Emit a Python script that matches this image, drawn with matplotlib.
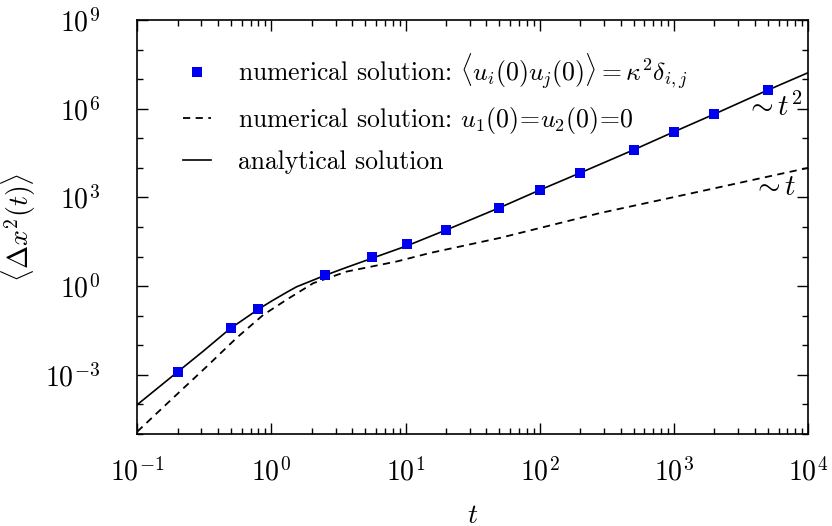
import numpy as np
import matplotlib
matplotlib.use("Agg")
import matplotlib.pyplot as plt
from matplotlib.ticker import LogLocator, NullFormatter

plt.rcParams['font.family'] = 'serif'
plt.rcParams['font.serif'] = ['cmr10']
plt.rcParams['mathtext.fontset'] = 'cm'
plt.rcParams['axes.formatter.use_mathtext'] = True
plt.rcParams['axes.unicode_minus'] = False
plt.rcParams['font.size'] = 20

# numerical solution, random initial velocities (squares)
t_num = [0.2, 0.5, 0.8, 2.5, 5.6, 10.3, 20, 50, 100, 200, 500, 1000, 2000, 5000]
x2_num = [1.26e-3, 0.039, 0.17, 2.4, 9.5, 26, 80, 447, 1780, 6760,
          4.07e4, 1.66e5, 6.6e5, 4.27e6]

# numerical solution, u1(0)=u2(0)=0 (dashed)
t_zero = [0.1, 0.185, 0.329, 0.55, 0.87, 1.3, 2.05, 3.63, 8.57, 15.2,
          50.5, 280, 1480, 1e4]
x2_zero = [1.2e-5, 1.66e-4, 1.9e-3, 0.0178, 0.107, 0.35, 1.26, 3.1, 6.8, 13.2,
           42.7, 295, 1510, 1.0e4]

# analytical solution (solid)
t_an = [0.1, 0.2, 0.31, 0.49, 0.8, 1.0, 1.3, 1.54, 2.05, 2.5, 3.63, 5.6, 10.3,
        20, 50, 100, 200, 500, 1000, 2000, 5000, 1e4]
x2_an = [9.8e-5, 1.26e-3, 6.3e-3, 0.036, 0.166, 0.31, 0.62, 0.95, 1.6, 2.3, 4.3,
         8.7, 23.4, 79, 447, 1780, 6760, 4.07e4, 1.66e5, 6.6e5, 4.27e6, 1.66e7]

fig = plt.figure(figsize=(8.32, 5.26), dpi=100)
ax = fig.add_axes([0.165, 0.175, 0.8065, 0.787])

ax.plot(t_num, x2_num, 's', color='#0000f0', markersize=7.5, markeredgewidth=0,
        label=r'numerical solution: $\langle u_i(0)u_j(0)\rangle = \kappa^2\delta_{i,j}$',
        zorder=3)
ax.plot(t_zero, x2_zero, '--', color='black', lw=1.3, dashes=(4, 3),
        label=r'numerical solution: $u_1(0)\!=\!u_2(0)\!=\!0$')
ax.plot(t_an, x2_an, '-', color='black', lw=1.2, label='analytical solution')

ax.set_xscale('log')
ax.set_yscale('log')
ax.set_xlim(0.1, 1e4)
ax.set_ylim(1e-5, 1e9)

ax.yaxis.set_major_locator(LogLocator(base=1000.0, numticks=10))
ax.yaxis.set_minor_locator(LogLocator(base=10.0, subs=(1.0,), numticks=20))
ax.yaxis.set_minor_formatter(NullFormatter())
ax.xaxis.set_major_locator(LogLocator(base=10.0, numticks=10))
ax.xaxis.set_minor_locator(LogLocator(base=10.0, subs=np.arange(2, 10), numticks=20))
ax.xaxis.set_minor_formatter(NullFormatter())

ax.tick_params(which='both', direction='in', top=True, right=True, width=1.0)
ax.tick_params(which='major', length=8)
ax.tick_params(which='minor', length=4)
ax.tick_params(axis='x', which='major', pad=17)
ax.tick_params(axis='y', which='major', pad=27)
for s in ax.spines.values():
    s.set_linewidth(1.2)

ax.set_xlabel(r'$t$')
ax.set_ylabel(r'$\langle \Delta x^2(t) \rangle$')
ax.xaxis.set_label_coords(0.5, -0.165)
ax.yaxis.set_label_coords(-0.148, 0.5)

ax.text(5.5e3, 1.1e6, r'$\sim t^2$', ha='center', va='center', fontsize=21)
ax.text(5.6e3, 2.1e3, r'$\sim t$', ha='center', va='center', fontsize=21)

ax.legend(loc='upper left', bbox_to_anchor=(0.053, 0.95), borderaxespad=0,
          frameon=False, fontsize=18.5, handlelength=1.1, handletextpad=1.05,
          labelspacing=0.55)

fig.savefig('out.png', dpi=100)
